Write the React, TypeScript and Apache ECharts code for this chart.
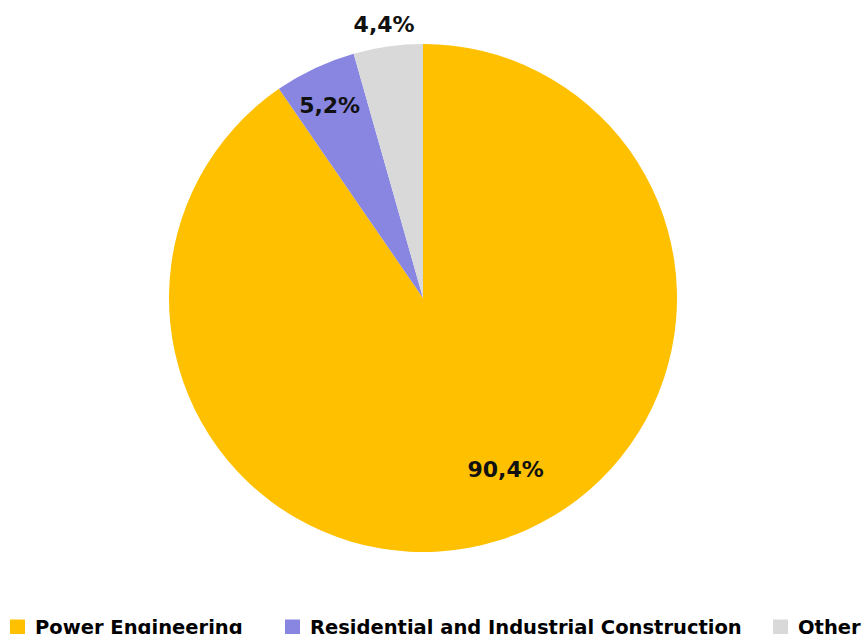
import React, { useEffect, useRef } from "react";
import * as echarts from "echarts";

const categories = ["Power Engineering", "Residential and Industrial Construction", "Other"];
const values = [90.4, 5.2, 4.4];
const labels = ["90,4%", "5,2%", "4,4%"];
const colors = ["#FFC000", "#8886E0", "#D9D9D9"];
const labelOffsets: [number, number][] = [[44, 47], [-38, -75], [-21, -145]];
const legendLefts = [10, 285, 773];

export default function App() {
  const ref = useRef<HTMLDivElement>(null);
  useEffect(() => {
    if (!ref.current) return;
    const chart = echarts.init(ref.current, null, { renderer: "svg" });
    chart.setOption({
      animation: false,
      legend: categories.map((name, i) => ({
        left: legendLefts[i],
        top: 617,
        padding: 0,
        itemWidth: 15,
        itemHeight: 15,
        icon: "rect",
        data: [name],
        textStyle: {
          fontFamily: "DejaVu Sans",
          fontWeight: "bold",
          fontSize: 19.5,
          color: "#000",
          padding: [0, 0, 0, 5],
        },
      })),
      series: [
        {
          type: "pie",
          center: [423, 298],
          radius: 254,
          startAngle: 90,
          clockwise: true,
          silent: true,
          labelLine: { show: false },
          data: categories.map((name, i) => ({
            name,
            value: values[i],
            itemStyle: { color: colors[i] },
            label: {
              show: true,
              position: "inside",
              formatter: labels[i],
              offset: labelOffsets[i],
              fontFamily: "DejaVu Sans",
              fontWeight: "bold",
              fontSize: 22,
              color: "#111",
            },
          })),
        },
      ],
    });
    return () => chart.dispose();
  }, []);
  return <div ref={ref} style={{ width: 861, height: 634, position: "absolute", left: 0, top: 0 }} />;
}
